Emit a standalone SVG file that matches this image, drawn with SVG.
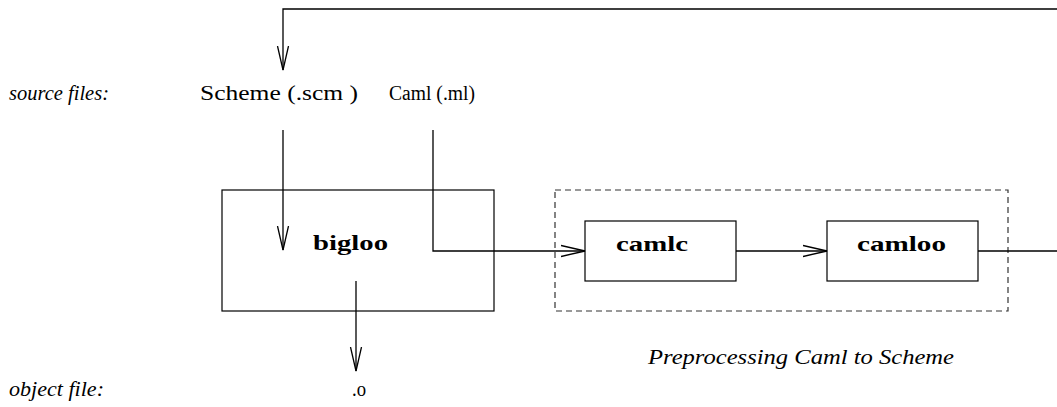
<svg xmlns="http://www.w3.org/2000/svg" width="1057" height="407" viewBox="0 0 1057 407">
<style>
.ln{fill:none;stroke:#000;stroke-width:1.3}
.box{fill:#fff;stroke:#000;stroke-width:1.2}
.dash{fill:none;stroke:#333;stroke-width:1.2;stroke-dasharray:6,4}
.it{font-family:"Liberation Serif",serif;font-style:italic;font-size:20px;fill:#000}
.rm{font-family:"Liberation Serif",serif;font-size:20px;fill:#000}
.bd{font-family:"Liberation Serif",serif;font-weight:bold;font-size:22px;fill:#000}
</style>
<defs>
<marker id="ah" markerWidth="26" markerHeight="14" refX="24" refY="7" orient="auto" markerUnits="userSpaceOnUse">
<path d="M0,1.5 L24,7 L0,12.5" fill="none" stroke="#000" stroke-width="1.3"/>
</marker>
</defs>
<g id="labels">
<text class="it" x="9" y="100" textLength="100" lengthAdjust="spacingAndGlyphs">source files:</text>
<text class="it" x="9" y="396" textLength="95" lengthAdjust="spacingAndGlyphs">object file:</text>
<text class="it" x="648" y="364" textLength="306" lengthAdjust="spacingAndGlyphs">Preprocessing  Caml to Scheme</text>
</g>
<g id="scheme-src"><text class="rm" x="200" y="100" textLength="158" lengthAdjust="spacingAndGlyphs">Scheme  (.scm )</text></g>
<g id="caml-src"><text class="rm" x="389" y="100" textLength="86" lengthAdjust="spacingAndGlyphs">Caml  (.ml)</text></g>
<g id="obj"><text class="rm" x="352" y="396" font-size="22" textLength="14" lengthAdjust="spacingAndGlyphs">.o</text></g>
<g id="preproc"><rect class="dash" x="555" y="190" width="453" height="121"/></g>
<g id="bigloo"><rect class="box" x="222" y="190" width="272" height="121"/><text class="bd" x="313" y="250" textLength="75" lengthAdjust="spacingAndGlyphs">bigloo</text></g>
<g id="camlc"><rect class="box" x="585" y="221" width="151" height="60"/><text class="bd" x="616" y="251" textLength="72" lengthAdjust="spacingAndGlyphs">camlc</text></g>
<g id="camloo"><rect class="box" x="827" y="221" width="151" height="60"/><text class="bd" x="857" y="251" textLength="89" lengthAdjust="spacingAndGlyphs">camloo</text></g>
<g id="connectors">
<path class="ln" d="M1057,9 H283 V70" marker-end="url(#ah)"/>
<path class="ln" d="M283,130 V250" marker-end="url(#ah)"/>
<path class="ln" d="M433,130 V251 H585" marker-end="url(#ah)"/>
<path class="ln" d="M736,251 H827" marker-end="url(#ah)"/>
<path class="ln" d="M978,251 H1057"/>
<path class="ln" d="M356,281 V371" marker-end="url(#ah)"/>
</g>
</svg>
